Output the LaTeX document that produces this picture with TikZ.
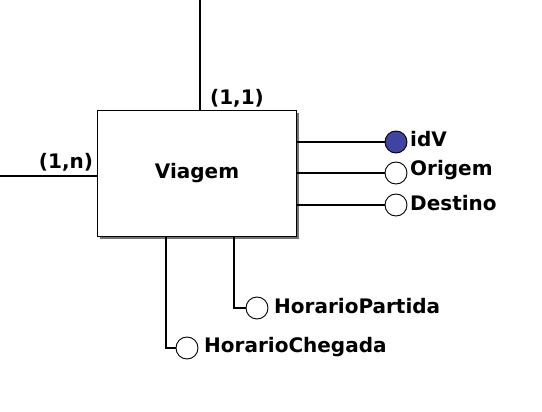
\documentclass[tikz,border=0pt]{standalone}
\usepackage{fontspec}
\setmainfont{DejaVu Sans}
\usetikzlibrary{shadows}
\definecolor{keyblue}{RGB}{62,68,160}
\tikzset{
  entity/.style={draw,rectangle,line width=1.6pt,fill=white,minimum width=199pt,minimum height=126pt,
    drop shadow={shadow xshift=2.5pt,shadow yshift=-2.5pt,fill=black!55,opacity=1}},
  attr/.style={draw,circle,line width=0.9pt,fill=white,inner sep=0pt,minimum size=22pt},
  keyattr/.style={attr,fill=keyblue},
  attrname/.style={anchor=west,inner sep=0pt},
  card/.style={inner sep=0pt},
  conn/.style={line width=1.1pt}
}
\begin{document}
\begin{tikzpicture}[x=1pt,y=-1pt,font=\fontsize{20}{23}\selectfont\bfseries]
  \useasboundingbox (0,0) rectangle (542,412);
  \node (Viagem) at (197,173.5) [entity] {Viagem};
  \coordinate (Up) at (200,0);
  \coordinate (Left) at (0,176);
  \node (idV) at (396,142) [keyattr] {};
  \node (Origem) at (396,173) [attr] {};
  \node (Destino) at (396,205) [attr] {};
  \node (HorarioPartida) at (257,308) [attr] {};
  \node (HorarioChegada) at (187,348) [attr] {};
  \node (idVTxt) at (410,139) [attrname] {idV};
  \node (OrigemTxt) at (410,170) [attrname] {Origem};
  \node (DestinoTxt) at (410,203) [attrname] {Destino};
  \node (HorarioPartidaTxt) at (274,306) [attrname] {HorarioPartida};
  \node (HorarioChegadaTxt) at (204,347) [attrname] {HorarioChegada};
  \node (c11) at (237,98) [card] {(1,1)};
  \node (c1n) at (66,162) [card] {(1,n)};
  \draw [conn] (Up) -- (Viagem.north -| Up);
  \draw [conn] (Left) -- (Viagem.west |- Left);
  \draw [conn] (Viagem.east |- idV) -- (idV);
  \draw [conn] (Viagem.east |- Origem) -- (Origem);
  \draw [conn] (Viagem.east |- Destino) -- (Destino);
  \draw [conn] ([xshift=37pt]Viagem.south) |- (HorarioPartida);
  \draw [conn] ([xshift=-31pt]Viagem.south) |- (HorarioChegada);
\end{tikzpicture}
\end{document}
